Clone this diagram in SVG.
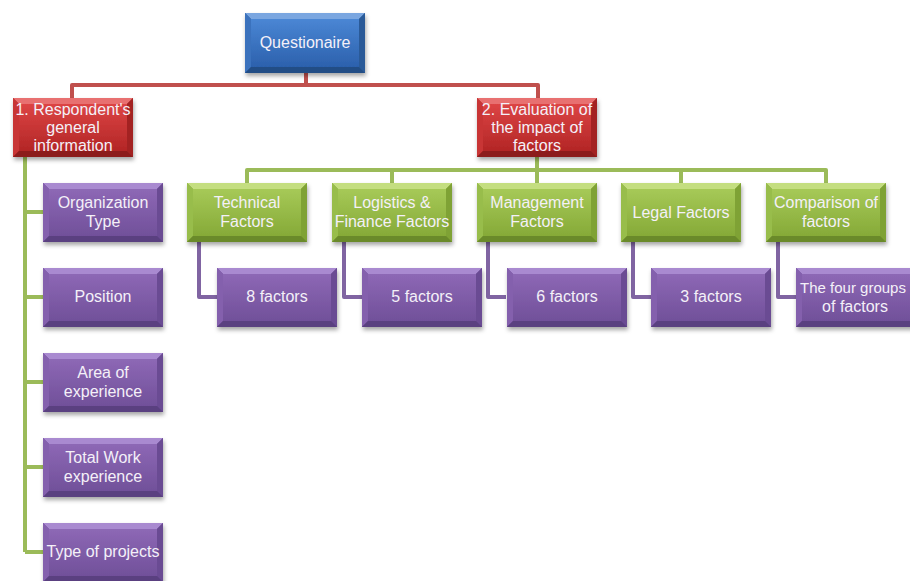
<svg xmlns="http://www.w3.org/2000/svg" xmlns:xlink="http://www.w3.org/1999/xlink" width="910" height="581" viewBox="0 0 910 581">
<style>
text{font-family:"Liberation Sans","Open Sans",Arial,sans-serif;font-size:16px;fill:#f4f0f8;text-anchor:middle}
.c{fill:none;stroke-width:4;stroke-linejoin:round}
.cr{stroke:#c0504d}
.cg{stroke:#9bbb59}
.cp{stroke:#8064a2}
</style>
<defs>
<filter id="sh" x="-10%" y="-10%" width="125%" height="130%"><feDropShadow dx="1" dy="3" stdDeviation="2" flood-color="#000" flood-opacity="0.35"/></filter>
<linearGradient id="gB" x1="0" y1="0" x2="0" y2="1"><stop offset="0" stop-color="#4a86d4"/><stop offset="1" stop-color="#2c61ad"/></linearGradient>
<linearGradient id="gR" x1="0" y1="0" x2="0" y2="1"><stop offset="0" stop-color="#dc4444"/><stop offset="1" stop-color="#b32626"/></linearGradient>
<linearGradient id="gG" x1="0" y1="0" x2="0" y2="1"><stop offset="0" stop-color="#a6c957"/><stop offset="1" stop-color="#86aa38"/></linearGradient>
<linearGradient id="gP" x1="0" y1="0" x2="0" y2="1"><stop offset="0" stop-color="#8d68b5"/><stop offset="1" stop-color="#71509a"/></linearGradient>
<g id="bxB" filter="url(#sh)">
<rect width="120" height="60" fill="#2d5f9f"/>
<polygon points="0,0 120,0 114,6 6,6" fill="#7aa6e0"/>
<polygon points="0,0 6,6 6,54 0,60" fill="#3a72bd"/>
<polygon points="120,0 114,6 114,54 120,60" fill="#2a5a98"/>
<polygon points="0,60 6,54 114,54 120,60" fill="#234d85"/>
<rect x="6" y="6" width="108" height="48" fill="url(#gB)"/>
</g>
<g id="bxR" filter="url(#sh)">
<rect width="120" height="59" fill="#a52525"/>
<polygon points="0,0 120,0 114,6 6,6" fill="#e87070"/>
<polygon points="0,0 6,6 6,53 0,59" fill="#c83434"/>
<polygon points="120,0 114,6 114,53 120,59" fill="#a32424"/>
<polygon points="0,59 6,53 114,53 120,59" fill="#8c1c1c"/>
<rect x="6" y="6" width="108" height="47" fill="url(#gR)"/>
</g>
<g id="bxG" filter="url(#sh)">
<rect width="120" height="59" fill="#7c9d33"/>
<polygon points="0,0 120,0 114,6 6,6" fill="#c4de80"/>
<polygon points="0,0 6,6 6,53 0,59" fill="#98bd4c"/>
<polygon points="120,0 114,6 114,53 120,59" fill="#7fa236"/>
<polygon points="0,59 6,53 114,53 120,59" fill="#6b8a2b"/>
<rect x="6" y="6" width="108" height="47" fill="url(#gG)"/>
</g>
<g id="bxP" filter="url(#sh)">
<rect width="120" height="59" fill="#674990"/>
<polygon points="0,0 120,0 114,6 6,6" fill="#a98ad0"/>
<polygon points="0,0 6,6 6,53 0,59" fill="#8460ad"/>
<polygon points="120,0 114,6 114,53 120,59" fill="#6a4c93"/>
<polygon points="0,59 6,53 114,53 120,59" fill="#5a3f80"/>
<rect x="6" y="6" width="108" height="47" fill="url(#gP)"/>
</g>
</defs>
<rect width="910" height="581" fill="#ffffff"/>
<g id="connectors">
<path class="c cr" d="M306,73 V85 M72,98 V85 H538 V98"/>
<path class="c cg" d="M25,157 V552 M25,212 H43 M25,297 H43 M25,382 H43 M25,467 H43 M25,552 H43"/>
<path class="c cg" d="M537,157 V170 M247,183 V170 H826 V183 M392,170 V183 M537,170 V183 M681,170 V183"/>
<path class="c cp" d="M199,242 V297 H217 M344,242 V297 H362 M488,242 V297 H506 M633,242 V297 H651 M778,242 V297 H796"/>
</g>
<g id="n-questionaire"><use href="#bxB" x="245" y="13"/><text x="305" y="48">Questionaire</text></g>
<g id="n-respondent"><use href="#bxR" x="13" y="98"/><text x="73" y="115">1. Respondent's</text><text x="73" y="133">general</text><text x="73" y="151">information</text></g>
<g id="n-evaluation"><use href="#bxR" x="477" y="98"/><text x="537" y="115">2. Evaluation of</text><text x="537" y="133">the impact of</text><text x="537" y="151">factors</text></g>
<g id="n-orgtype"><use href="#bxP" x="43" y="183"/><text x="103" y="208">Organization</text><text x="103" y="227">Type</text></g>
<g id="n-position"><use href="#bxP" x="43" y="268"/><text x="103" y="302">Position</text></g>
<g id="n-area"><use href="#bxP" x="43" y="353"/><text x="103" y="378">Area of</text><text x="103" y="397">experience</text></g>
<g id="n-total"><use href="#bxP" x="43" y="438"/><text x="103" y="463">Total Work</text><text x="103" y="482">experience</text></g>
<g id="n-type"><use href="#bxP" x="43" y="523"/><text x="103" y="557">Type of projects</text></g>
<g id="n-technical"><use href="#bxG" x="187" y="183"/><text x="247" y="208">Technical</text><text x="247" y="227">Factors</text></g>
<g id="n-logistics"><use href="#bxG" x="332" y="183"/><text x="392" y="208">Logistics &amp;</text><text x="392" y="227">Finance Factors</text></g>
<g id="n-management"><use href="#bxG" x="477" y="183"/><text x="537" y="208">Management</text><text x="537" y="227">Factors</text></g>
<g id="n-legal"><use href="#bxG" x="621" y="183"/><text x="681" y="218">Legal Factors</text></g>
<g id="n-comparison"><use href="#bxG" x="766" y="183"/><text x="826" y="208">Comparison of</text><text x="826" y="227">factors</text></g>
<g id="n-8"><use href="#bxP" x="217" y="268"/><text x="277" y="302">8 factors</text></g>
<g id="n-5"><use href="#bxP" x="362" y="268"/><text x="422" y="302">5 factors</text></g>
<g id="n-6"><use href="#bxP" x="507" y="268"/><text x="567" y="302">6 factors</text></g>
<g id="n-3"><use href="#bxP" x="651" y="268"/><text x="711" y="302">3 factors</text></g>
<g id="n-four"><use href="#bxP" x="796" y="268"/><text x="853" y="293" style="font-size:15px">The four groups</text><text x="855" y="312">of factors</text></g>
</svg>
